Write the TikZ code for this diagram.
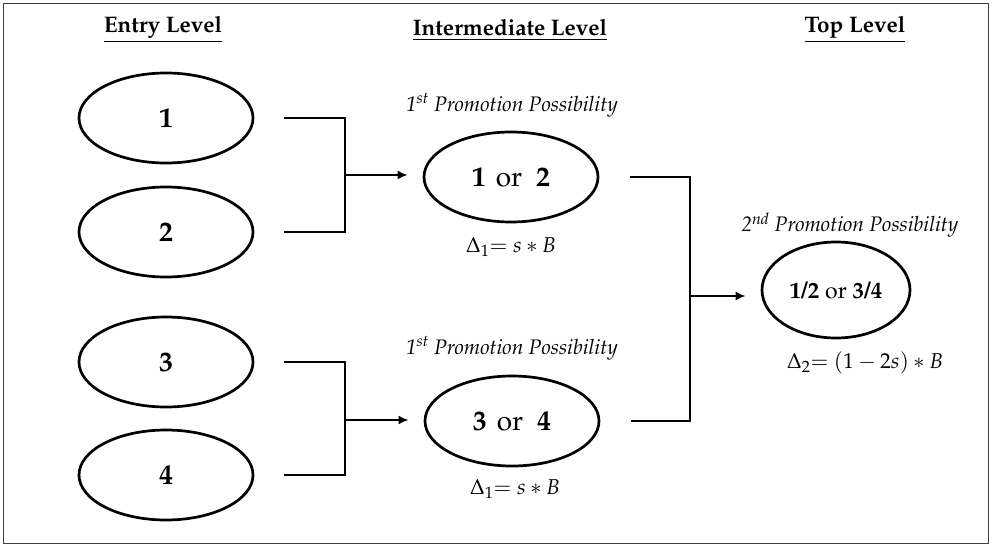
\documentclass[tikz,border=0pt]{standalone}
\usepackage[T1]{fontenc}
\usepackage{mathpazo}
\usepackage{tikz}
\usetikzlibrary{shapes.geometric,arrows.meta}

\tikzset{
  level/.style={font=\fontsize{22.5}{26}\selectfont\bfseries},
  player/.style={draw,ellipse,line width=2.7pt,minimum width=174pt,minimum height=90pt,inner sep=0pt,font=\fontsize{28}{32}\selectfont},
  promo/.style={font=\fontsize{21}{24}\selectfont\itshape},
  delta/.style={font=\fontsize{21.5}{24}\selectfont},
  bracket/.style={line width=2.8pt},
  promote/.style={line width=2.8pt,-{Latex[length=10pt,width=9pt]},shorten >=15pt}
}

\begin{document}
\begin{tikzpicture}[x=1pt,y=-1pt]
		% >>> frame
		\useasboundingbox (0,0) rectangle (992,548);
		\draw[line width=1.2pt,black!75] (3.5,3.5) rectangle (988.5,543.5);
		% <<< frame

		% >>> headings
		\node[level] (hentry) at (163,30) {\underline{Entry Level}};
		\node[level] (hmid) at (510,30) {\underline{Intermediate Level}};
		\node[level] (htop) at (855,30) {\underline{Top Level}};
		% <<< headings

		% >>> entry level
		\node[player] (e1) at (166,118) {\textbf{1}};
		\node[player] (e2) at (166,232) {\textbf{2}};
		\node[player] (e3) at (166,362) {\textbf{3}};
		\node[player] (e4) at (166,475) {\textbf{4}};
		% <<< entry level

		% >>> intermediate level
		\node[promo] (p12) at (512,105) {1\textsuperscript{st} Promotion Possibility};
		\node[player] (m12) at (511,177) {\textbf{1}\hspace{10pt}or\hspace{14pt}\textbf{2}};
		\node[delta] (d12) at (511,247) {$\Delta_1{=}\ s \ast B$};

		\node[promo] (p34) at (512,348) {1\textsuperscript{st} Promotion Possibility};
		\node[player] (m34) at (512,421) {\textbf{3}\hspace{10pt}or\hspace{14pt}\textbf{4}};
		\node[delta] (d34) at (515,489) {$\Delta_1{=}\ s \ast B$};
		% <<< intermediate level

		% >>> top level
		\node[promo] (ptop) at (850,225) {2\textsuperscript{nd} Promotion Possibility};
		\node[player,minimum width=148pt,minimum height=96pt,font=\fontsize{23}{27}\selectfont] (t) at (836,290) {\textbf{1/2} or \textbf{3/4}};
		\node[delta] (dtop) at (865,363) {$\Delta_2{=}\ (1 - 2s) \ast B$};
		% <<< top level

		% >>> brackets
		\coordinate (j12) at (345,175);
		\coordinate (j34) at (345,420);
		\coordinate (jtop) at (690,296);
		\draw[bracket] ([xshift=30pt]e1.east) -| (j12) |- ([xshift=30pt]e2.east);
		\draw[bracket] ([xshift=30pt]e3.east) -| (j34) |- ([xshift=30pt]e4.east);
		\draw[bracket] ([xshift=31pt]m12.east) -| (jtop) |- ([xshift=31pt]m34.east);
		\draw[promote] (j12) -- (j12 -| m12.west);
		\draw[promote] (j34) -- (j34 -| m34.west);
		\draw[promote] (jtop) -- (jtop -| t.west);
		% <<< brackets
	\end{tikzpicture}
\end{document}
